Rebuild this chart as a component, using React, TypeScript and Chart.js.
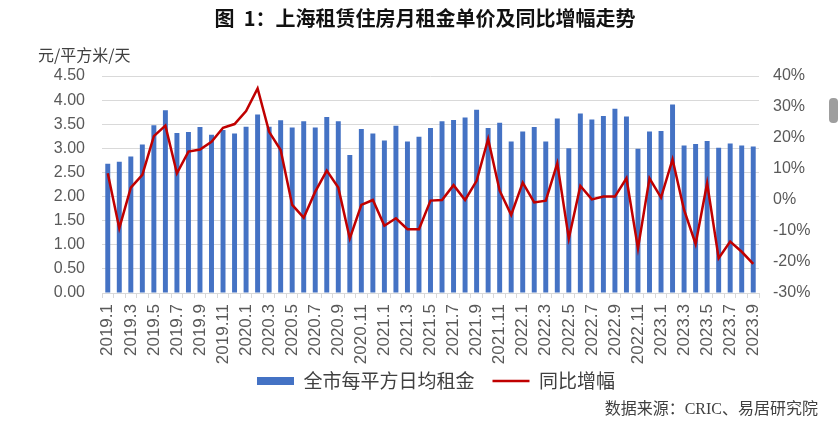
import React, { useEffect, useRef } from "react";
import { Chart, registerables } from "chart.js";

Chart.register(...registerables);

const categories = [
  "2019.1","2019.2","2019.3","2019.4","2019.5","2019.6","2019.7","2019.8","2019.9","2019.10","2019.11","2019.12",
  "2020.1","2020.2","2020.3","2020.4","2020.5","2020.6","2020.7","2020.8","2020.9","2020.10","2020.11","2020.12",
  "2021.1","2021.2","2021.3","2021.4","2021.5","2021.6","2021.7","2021.8","2021.9","2021.10","2021.11","2021.12",
  "2022.1","2022.2","2022.3","2022.4","2022.5","2022.6","2022.7","2022.8","2022.9","2022.10","2022.11","2022.12",
  "2023.1","2023.2","2023.3","2023.4","2023.5","2023.6","2023.7","2023.8","2023.9",
];

const rentPerSqmDay = [
  2.68, 2.72, 2.83, 3.08, 3.48, 3.79, 3.32, 3.34, 3.44, 3.28, 3.38, 3.31,
  3.45, 3.70, 3.45, 3.58, 3.43, 3.56, 3.43, 3.65, 3.56, 2.86, 3.40, 3.31,
  3.16, 3.47, 3.14, 3.24, 3.42, 3.56, 3.59, 3.64, 3.80, 3.42, 3.53, 3.14,
  3.35, 3.44, 3.14, 3.62, 3.00, 3.72, 3.60, 3.67, 3.82, 3.66, 2.99, 3.35,
  3.36, 3.91, 3.06, 3.09, 3.15, 3.01, 3.10, 3.06, 3.04,
];

const yoyGrowth = [
  8.6, -9.1, 4.0, 8.1, 20.6, 24.0, 8.6, 15.6, 16.3, 18.8, 23.3, 24.5,
  28.7, 36.0, 22.0, 16.1, -1.6, -5.7, 2.7, 9.5, 4.0, -12.4, -1.6, 0.0,
  -8.3, -5.9, -9.4, -9.4, -0.2, 0.0, 4.8, 0.0, 6.2, 19.7, 3.0, -4.8,
  5.6, -0.8, -0.2, 11.8, -12.4, 4.5, 0.2, 1.1, 1.1, 7.0, -15.6, 7.0,
  0.8, 13.1, -3.2, -14.2, 5.4, -18.8, -13.4, -16.7, -20.6,
];

const seriesNames = ["全市每平方日均租金", "同比增幅"];
const titleText = "图  1：上海租赁住房月租金单价及同比增幅走势";
const unitText = "元/平方米/天";
const sourceText = "数据来源：CRIC、易居研究院";

const SANS = '"Liberation Sans", "Noto Sans CJK SC", sans-serif';
const CJK = '"Noto Sans CJK SC", "Liberation Sans", sans-serif';

export default function App() {
  const ref = useRef<HTMLCanvasElement | null>(null);

  useEffect(() => {
    const canvas = ref.current;
    if (!canvas) return;

    const textPlugin = {
      id: "extraText",
      afterLayout(chart: any) {
        const lg = chart.legend;
        if (lg) {
          lg.left += 16;
          lg.right += 16;
          lg.top -= 12.5;
          lg.bottom -= 12.5;
        }
      },
      afterDraw(chart: any) {
        const ctx = chart.ctx;
        ctx.save();
        ctx.fillStyle = "#111";
        ctx.font = `bold 20px ${CJK}`;
        ctx.textAlign = "center";
        ctx.textBaseline = "middle";
        ctx.fillText(titleText, 425, 18);

        ctx.fillStyle = "#404040";
        ctx.font = `16px ${CJK}`;
        ctx.textAlign = "left";
        ctx.fillText(unitText, 38, 55);

        ctx.font = `16px "Liberation Serif", "Noto Sans CJK SC", serif`;
        ctx.textAlign = "right";
        ctx.fillText(sourceText, 818, 410);
        ctx.restore();
      },
    };

    const chart = new Chart(canvas, {
      data: {
        labels: categories,
        datasets: [
          {
            type: "bar",
            label: seriesNames[0],
            data: rentPerSqmDay,
            backgroundColor: "#4472C4",
            borderWidth: 0,
            yAxisID: "y",
            categoryPercentage: 1,
            barPercentage: 0.43,
            order: 1,
          },
          {
            type: "line",
            label: seriesNames[1],
            data: yoyGrowth,
            borderColor: "#C00000",
            backgroundColor: "#C00000",
            borderWidth: 2.5,
            pointRadius: 0,
            tension: 0,
            yAxisID: "y1",
            order: 0,
          },
        ],
      } as any,
      options: {
        animation: false,
        responsive: false,
        maintainAspectRatio: false,
        layout: { padding: { top: 76, left: 0, right: 0, bottom: 14 } },
        plugins: {
          title: { display: false },
          tooltip: { enabled: false },
          legend: {
            display: true,
            position: "bottom",
            labels: {
              usePointStyle: true,
              pointStyleWidth: 37,
              boxHeight: 8,
              padding: 18,
              color: "#404040",
              font: { size: 19, family: CJK },
              generateLabels: (c: any) => {
                const items = (Chart.defaults.plugins.legend.labels as any).generateLabels(c);
                items.forEach((it: any) => {
                  it.pointStyle = it.datasetIndex === 0 ? "rect" : "line";
                });
                return items.sort((a: any, b: any) => a.datasetIndex - b.datasetIndex);
              },
            },
          },
        },
        scales: {
          x: {
            offset: true,
            grid: {
              display: true,
              drawOnChartArea: false,
              drawTicks: true,
              tickLength: 5,
              color: "#D9D9D9",
            },
            border: { display: true, color: "#D9D9D9" },
            ticks: {
              autoSkip: false,
              maxRotation: 90,
              minRotation: 90,
              padding: 6,
              color: "#595959",
              font: { size: 17, family: SANS },
              callback: (_v: any, i: number) => (i % 2 === 0 ? categories[i] : ""),
            },
            afterFit: (s: any) => {
              s.height = 73;
            },
          },
          y: {
            position: "left",
            min: 0,
            max: 4.5,
            grid: { color: "#D9D9D9", drawTicks: false, lineWidth: 1 },
            border: { display: false },
            ticks: {
              stepSize: 0.5,
              padding: 17,
              color: "#595959",
              font: { size: 16, family: SANS },
              callback: (v: any) => Number(v).toFixed(2),
            },
            afterFit: (s: any) => {
              s.width = 102;
            },
          },
          y1: {
            position: "right",
            min: -30,
            max: 40,
            grid: { display: false, drawTicks: false },
            border: { display: false },
            ticks: {
              stepSize: 10,
              padding: 14,
              color: "#595959",
              font: { size: 16, family: SANS },
              callback: (v: any) => `${v}%`,
            },
            afterFit: (s: any) => {
              s.width = 81;
            },
          },
        },
      } as any,
      plugins: [textPlugin],
    });

    return () => chart.destroy();
  }, []);

  return (
    <div style={{ position: "absolute", left: 0, top: 0, width: 840, height: 427, background: "#fff" }}>
      <canvas ref={ref} width={840} height={427} style={{ display: "block", width: 840, height: 427 }} />
      <div
        style={{
          position: "absolute",
          left: 829,
          top: 98,
          width: 9,
          height: 25,
          borderRadius: 4,
          background: "#9e9e9e",
        }}
      />
    </div>
  );
}
